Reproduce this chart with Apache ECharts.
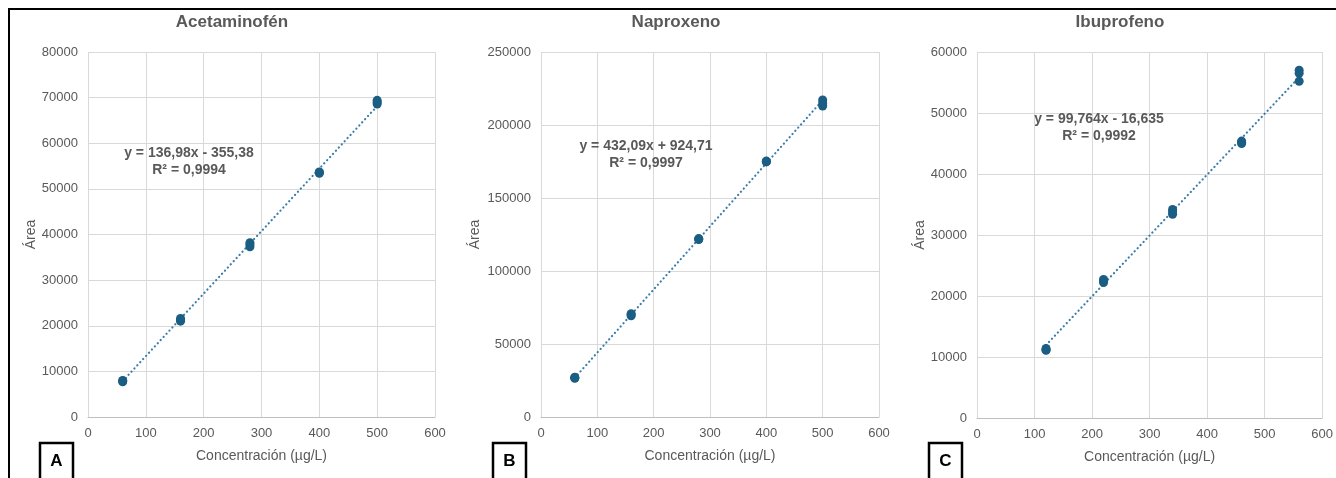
<!DOCTYPE html>
<html>
<head>
<meta charset="utf-8">
<script src="https://cdn.jsdelivr.net/npm/echarts@6/dist/echarts.min.js"></script>
<style>
  html, body { margin: 0; padding: 0; background: #fff; }
  #chart { width: 1336px; height: 478px; }
</style>
</head>
<body>
<div id="chart"></div>
<script>
// panel titles and labels
const titles = ['Acetaminofén', 'Naproxeno', 'Ibuprofeno'];
const panelTags = ['A', 'B', 'C'];
const equations = ['y = 136,98x - 355,38', 'y = 432,09x + 924,71', 'y = 99,764x - 16,635'];
const r2Labels = ['R² = 0,9994', 'R² = 0,9997', 'R² = 0,9992'];

// calibration points (concentration µg/L, peak area)
const concA = [60, 60, 60, 160, 160, 160, 280, 280, 280, 400, 400, 400, 500, 500, 500];
const areaA = [7700, 7900, 8000, 21000, 21300, 21600, 37300, 37800, 38200, 53400, 53600, 53700, 68600, 69000, 69400];
const concB = [60, 60, 60, 160, 160, 160, 280, 280, 280, 400, 400, 400, 500, 500, 500];
const areaB = [26500, 26900, 27200, 69300, 70000, 70700, 121500, 121900, 122200, 174700, 175000, 175300, 213000, 215000, 217200];
const concC = [120, 120, 120, 220, 220, 220, 340, 340, 340, 460, 460, 460, 560, 560, 560];
const areaC = [11100, 11200, 11400, 22200, 22500, 22700, 33400, 33800, 34200, 45000, 45200, 45400, 55200, 56500, 57000];

// trendline coefficients as printed on the chart
const slopes = [136.98, 432.09, 99.764];
const intercepts = [-355.38, 924.71, -16.635];

// axis ranges
const yMax = [80000, 250000, 60000];
const yStep = [10000, 50000, 10000];

const conc = [concA, concB, concC];
const area = [areaA, areaB, areaC];

const grids = [
  { left: 88, top: 52, width: 347, height: 365 },
  { left: 541, top: 52, width: 338, height: 365 },
  { left: 977, top: 52, width: 346, height: 366 }
];
const nameGaps = [47, 59, 50];

const textColor = '#595959';
const font = '"Liberation Sans", Arial, sans-serif';

const xAxes = grids.map((g, i) => ({
  type: 'value', gridIndex: i, min: 0, max: 600, interval: 100,
  name: 'Concentración (µg/L)', nameLocation: 'middle', nameGap: 32,
  nameTextStyle: { color: textColor, fontSize: 14, fontFamily: font },
  axisLine: { show: true, lineStyle: { color: '#BFBFBF', width: 1 } },
  axisTick: { show: false },
  axisLabel: { color: textColor, fontSize: 13, fontFamily: font, margin: 10, formatter: v => String(v) },
  splitLine: { show: true, lineStyle: { color: '#D9D9D9', width: 1 } }
}));

const yAxes = grids.map((g, i) => ({
  type: 'value', gridIndex: i, min: 0, max: yMax[i], interval: yStep[i],
  name: 'Área', nameLocation: 'middle', nameGap: nameGaps[i],
  nameTextStyle: { color: textColor, fontSize: 14, fontFamily: font },
  axisLine: { show: false },
  axisTick: { show: false },
  axisLabel: { color: textColor, fontSize: 13, fontFamily: font, margin: 10, formatter: v => String(v) },
  splitLine: { show: true, lineStyle: { color: '#D9D9D9', width: 1 } }
}));

const series = [];
conc.forEach((xs, i) => {
  const lo = Math.min(...xs), hi = Math.max(...xs);
  series.push({
    type: 'line', xAxisIndex: i, yAxisIndex: i, symbol: 'none', silent: true,
    data: [[lo, slopes[i] * lo + intercepts[i]], [hi, slopes[i] * hi + intercepts[i]]],
    lineStyle: { color: '#3B7DAA', width: 2.2, type: [0.1, 4.2], cap: 'round' },
    z: 2
  });
  series.push({
    type: 'scatter', xAxisIndex: i, yAxisIndex: i, symbolSize: 9,
    data: xs.map((x, k) => [x, area[i][k]]),
    itemStyle: { color: '#1A5E84', opacity: 1 },
    z: 3
  });
});

// text overlays: titles, equations, panel tags, outer frame
const titleX = [232, 676, 1120];
const eqX = [189, 646, 1099];
const eqY = [153, 146, 119];
const tagX = [40, 493, 929];

const graphic = [
  { type: 'polyline', shape: { points: [[9, 480], [9, 9], [1340, 9]] }, style: { stroke: '#000', lineWidth: 2, fill: null } }
];
titles.forEach((t, i) => {
  graphic.push({ type: 'text', style: { text: t, x: titleX[i], y: 22, textAlign: 'center', textVerticalAlign: 'middle', fill: textColor, font: 'bold 17px ' + font } });
  graphic.push({ type: 'text', z: 10, style: { text: equations[i], x: eqX[i], y: eqY[i], textAlign: 'center', textVerticalAlign: 'middle', fill: textColor, font: 'bold 14px ' + font } });
  graphic.push({ type: 'text', z: 10, style: { text: r2Labels[i], x: eqX[i], y: eqY[i] + 17, textAlign: 'center', textVerticalAlign: 'middle', fill: textColor, font: 'bold 14px ' + font } });
  graphic.push({ type: 'rect', shape: { x: tagX[i], y: 443, width: 33, height: 40 }, style: { stroke: '#000', lineWidth: 2.5, fill: '#fff' } });
  graphic.push({ type: 'text', style: { text: panelTags[i], x: tagX[i] + 16.5, y: 461, textAlign: 'center', textVerticalAlign: 'middle', fill: '#000', font: 'bold 17px ' + font } });
});

const chart = echarts.init(document.getElementById('chart'));
chart.setOption({
  animation: false,
  backgroundColor: '#fff',
  grid: grids,
  xAxis: xAxes,
  yAxis: yAxes,
  series: series,
  graphic: graphic
});
</script>
</body>
</html>
